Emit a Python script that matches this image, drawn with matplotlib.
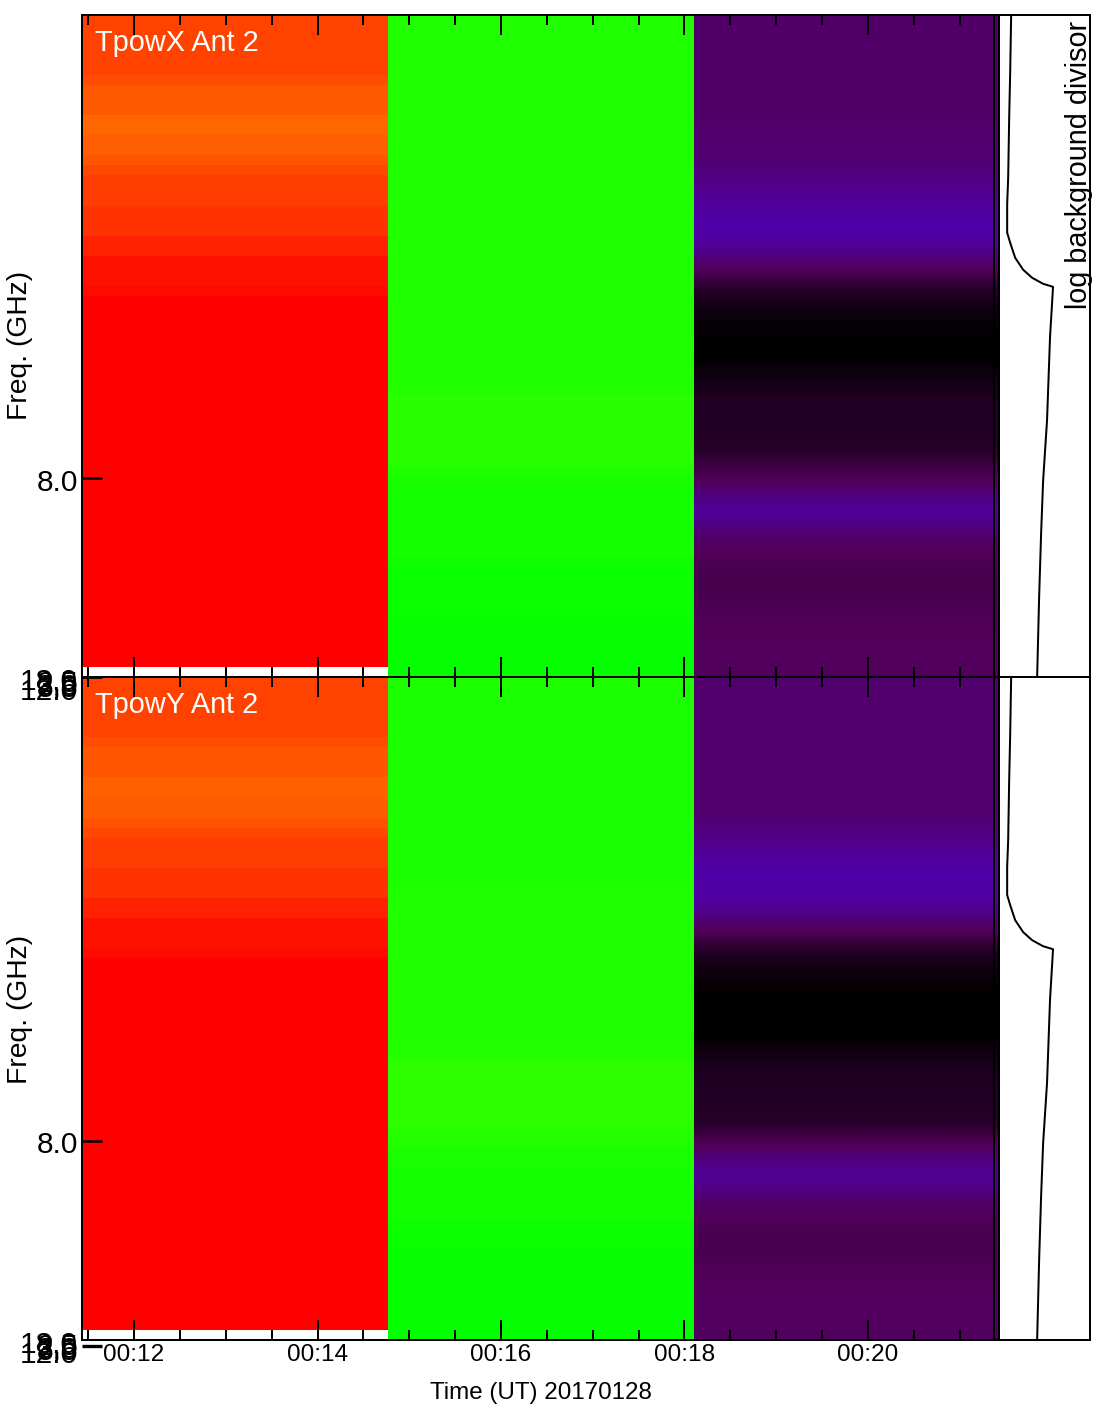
import numpy as np
import matplotlib
matplotlib.use('Agg')
import matplotlib.pyplot as plt
from matplotlib.colors import LinearSegmentedColormap
from matplotlib.transforms import blended_transform_factory

plt.rcParams['font.family'] = ['Liberation Sans', 'DejaVu Sans']

# time edges of the three scans (minutes after 00:00 UT)
time_edges = [11.433, 14.768, 18.10, 21.43]
flag_lines = [21.37, 21.43]
x_limits = (11.433, 22.42)
major_minutes = [12, 14, 16, 18, 20]
major_labels = ['00:12', '00:14', '00:16', '00:18', '00:20']
minor_minutes = [11.5, 12.5, 13, 13.5, 14.5, 15, 15.5, 16.5, 17, 17.5, 18.5, 19, 19.5, 20.5, 21]

n_bands = 66

# band values per scan, listed from the top band down
nan = float('nan')
red_x = [.935, .935, .935, .935, .935, .935, .925, .9125, .9125, .9125, .90, .90, .9075, .9075,
         .9175, .93, .94, .94, .94, .95, .95, .95, .9675, .9675, .9825, .9825, .9825,
         .99, 1, 1, 1, 1, 1, 1, 1, 1, 1, 1, 1, 1, 1, 1, 1, 1, 1, 1, 1, 1, 1, 1, 1, 1, 1, 1, 1, 1, 1,
         1, 1, 1, 1, 1, 1, 1, 1, nan]
green_x = [.63, .63, .63, .63, .63, .63, .63, .63, .63, .63, .63, .63,
           .63, .63, .63, .63, .63, .63, .63, .63, .63, .63, .63, .63,
           .63, .63, .63, .63, .63, .63, .63, .63, .63, .63, .63, .63, .63,
           .635, .64, .64, .64, .64, .64, .64, .64, .63, .625, .62, .62, .62, .62,
           .62, .62, .62, .615, .61, .61, .61, .61, .61, .605, .605, .605, .605, .605, .605]
purple_x = [.12, .12, .12, .12, .12, .12, .12, .12, .12, .12, .125, .125, .125, .13, .135, .145,
            .155, .17, .18, .19, .20, .20, .19, .165, .13, .10, .07, .045, .03, .02, .012, .006,
            0, 0, .005, .015, .025, .032, .04, .042, .044, .044, .046, .048, .07, .085, .105,
            .135, .165, .18, .165, .14, .115, .105, .095, .09, .088, .088, .09, .095, .10, .10,
            .105, .105, .105, .105]

red_y = [.935, .935, .935, .935, .935, .935, .925, .915, .915, .915, .905, .905, .91, .91,
         .92, .93, .94, .94, .94, .95, .95, .95, .9675, .9675, .9825, .9825, .9825,
         .99, 1, 1, 1, 1, 1, 1, 1, 1, 1, 1, 1, 1, 1, 1, 1, 1, 1, 1, 1, 1, 1, 1, 1, 1, 1, 1, 1, 1, 1,
         1, 1, 1, 1, 1, 1, 1, 1, nan]
green_y = [.6275, .6275, .6275, .6275, .6275, .6275, .6275, .6275, .6275, .6275, .6275, .6275,
           .6275, .6275, .6275, .6275, .6275, .6275, .6275, .6275, .6275, .63, .63, .63,
           .63, .63, .63, .63, .63, .63, .63, .63, .63, .63, .63, .63, .63,
           .635, .645, .645, .645, .645, .645, .645, .645, .635, .63, .625, .625, .62, .62,
           .62, .62, .62, .615, .61, .61, .605, .605, .605, .605, .605, .605, .605, .605, .605]
purple_y = [.125, .125, .125, .125, .125, .125, .125, .125, .125, .125, .125, .125, .125, .13, .14, .15,
            .165, .18, .19, .20, .20, .195, .185, .16, .125, .095, .065, .04, .026, .017, .01, .004,
            0, 0, 0, .003, .012, .022, .03, .038, .04, .042, .042, .045, .05, .075, .10,
            .13, .16, .175, .165, .14, .115, .105, .095, .09, .09, .09, .095, .10, .105, .105,
            .11, .11, .11, .11]

# background divisor curve, fraction across the side strip vs band number
divisor_vals = [.132, .121, .110, .099, .088, .088, .121, .176, .264, .363, .484, .593, .560, .527, .484, .462, .440, .418]
divisor_band = [66, 60.2, 55.7, 49.75, 47.1, 44.3, 43.3, 41.8, 40.6, 39.8, 39.2, 38.9, 33.9, 25.6, 19.6, 14.4, 8.0, 0]

# y ticks (the low ones pile on top of each other, as in the original)
mid_tick_band = 19.84
mid_tick_label = '8.0'
pile_tick_band = -0.55
pile_labels = ['18.0', '2.5', '3.0', '3.5', '12.0']
pile_label_bands = [-0.45, -0.7, -0.95, -1.2, -1.45]

# colour table: black, purple, blue ... green, yellow, orange, red
cmap = LinearSegmentedColormap.from_list('tpow', [
    (0.0, (0, 0, 0)), (0.10, (0.32, 0, 0.35)), (0.20, (0.32, 0, 0.66)), (0.30, (0, 0, 1)),
    (0.45, (0, 1, 1)), (0.60, (0, 1, 0)), (0.65, (0.2, 1, 0)), (0.78, (1, 1, 0)),
    (0.90, (1, 0.4, 0)), (1.0, (1, 0, 0))], N=1024)

W, H = 1106, 1410
fig = plt.figure(figsize=(W / 100, H / 100), dpi=100, facecolor='white')
ax1 = fig.add_axes([82 / W, 1 - 677 / H, 1008 / W, 662 / H])
ax2 = fig.add_axes([82 / W, 1 - 1340 / H, 1008 / W, 663 / H])
ax2.set_zorder(3)


def y_tick(ax, band, lw=1.8):
    trans = blended_transform_factory(ax.transAxes, ax.transData)
    ax.plot([0, 20 / 1008], [band, band], color='k', lw=lw, transform=trans, clip_on=False, zorder=5,
            solid_capstyle='butt')


def y_label(ax, band, text):
    trans = blended_transform_factory(ax.transAxes, ax.transData)
    ax.text(-4 / 1008, band, text, ha='right', va='center', fontsize=21.5, transform=trans, clip_on=False)


def draw_panel(ax, vals_r, vals_g, vals_p, title):
    data = np.ma.masked_invalid(np.array([vals_r, vals_g]).T)
    band_edges = np.arange(n_bands, -1, -1)
    ax.pcolormesh(time_edges[:3], band_edges, data, cmap=cmap, vmin=0, vmax=1, shading='flat')
    # last scan varies smoothly with band
    ax.imshow(np.column_stack([vals_p, vals_p]), cmap=cmap, vmin=0, vmax=1, aspect='auto',
              interpolation='bilinear', origin='upper',
              extent=(time_edges[2], time_edges[3], 0, n_bands))
    for x in flag_lines:
        ax.axvline(x, color='k', lw=1.44)
    x0, x1 = time_edges[-1], x_limits[1]
    ax.plot([x0 + v * (x1 - x0) for v in divisor_vals], divisor_band, color='k', lw=1.44)

    ax.set_xlim(*x_limits)
    ax.set_ylim(0, n_bands)
    ax.set_yticks([])
    ax.set_xticks(major_minutes)
    ax.set_xticks(minor_minutes, minor=True)
    ax.tick_params(axis='x', which='major', direction='in', length=14.4, width=1.44, top=True, pad=3)
    ax.tick_params(axis='x', which='minor', direction='in', length=7.2, width=1.44, top=True)
    for s in ax.spines.values():
        s.set_linewidth(1.44)

    y_tick(ax, mid_tick_band)
    y_label(ax, mid_tick_band - 0.45, mid_tick_label)
    y_tick(ax, pile_tick_band, lw=2.4)
    for b, lab in zip(pile_label_bands, pile_labels):
        y_label(ax, b, lab)

    ax.text(13 / 1008, 0.9455, title, color='white', fontsize=20.8, transform=ax.transAxes, va='baseline')


draw_panel(ax1, red_x, green_x, purple_x, 'TpowX Ant 2')
draw_panel(ax2, red_y, green_y, purple_y, 'TpowY Ant 2')

ax1.set_xticklabels([])
ax2.set_xticklabels(major_labels, fontsize=17.6)
y_tick(ax2, n_bands, lw=2.0)

ax1.text(0.989, 0.9915, 'log background divisor', rotation=90, ha='center', va='top', fontsize=20.7,
         transform=ax1.transAxes)

fig.text(20 / W, 1 - 345.5 / H, 'Freq. (GHz)', rotation=90, ha='center', va='center', fontsize=20.3)
fig.text(20 / W, 1 - 1009.5 / H, 'Freq. (GHz)', rotation=90, ha='center', va='center', fontsize=20.3)
fig.text(541 / W, 1 - 1393.5 / H, 'Time (UT) 20170128', ha='center', va='center', fontsize=17.4)

fig.savefig('out.png', dpi=100)
